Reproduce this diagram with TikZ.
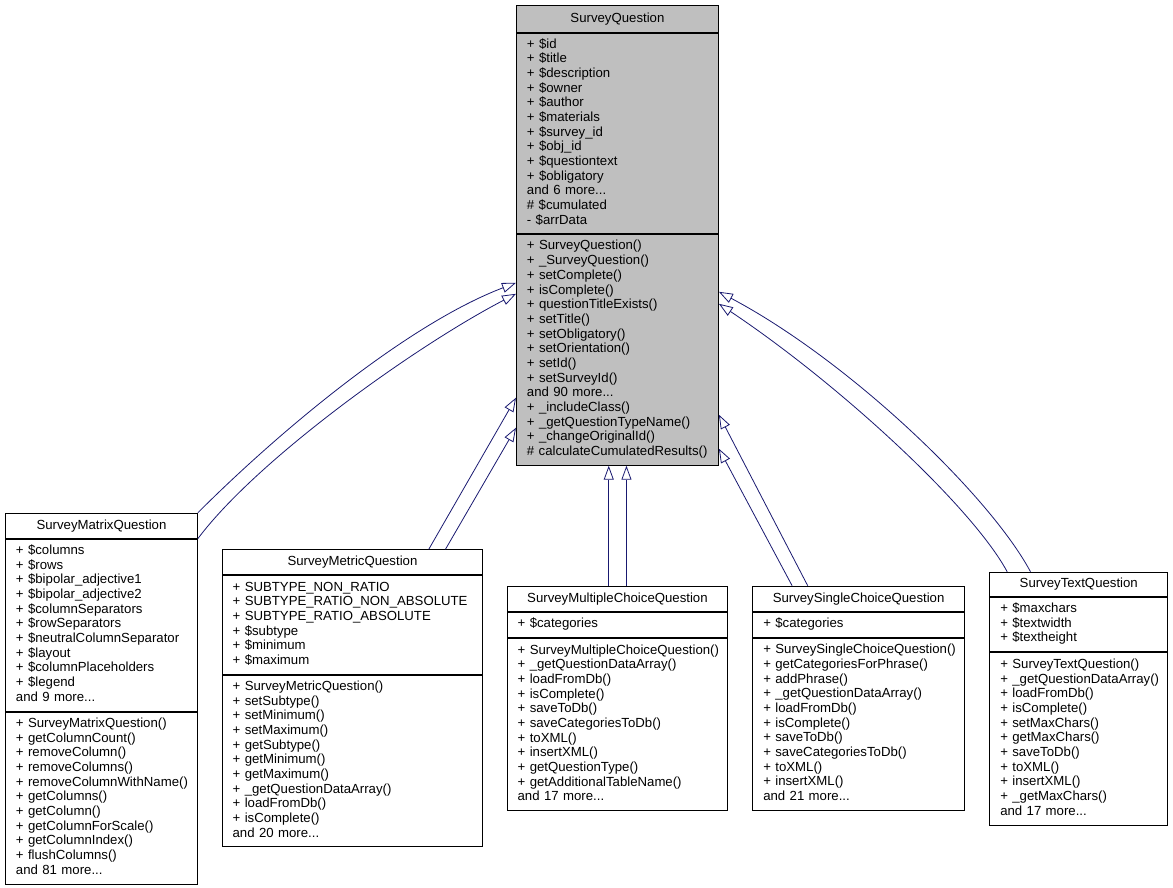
\documentclass[tikz,border=0pt]{standalone}
\usepackage{fontspec}
\setmainfont{Liberation Sans}
\usetikzlibrary{positioning, arrows.meta}
\definecolor{edgeblue}{HTML}{191970}
\definecolor{basegray}{HTML}{BFBFBF}
\newcommand{\members}[1]{\begin{tabular}{@{}l@{}}#1\end{tabular}}

\begin{document}
\begin{tikzpicture}
	[x=1pt, y=-1pt, node distance=0pt,
	 font=\fontsize{13.2}{14.67}\selectfont,
	 box/.style={draw=black, line width=0.9pt, inner xsep=10.5pt, inner ysep=1pt, text width=#1},
	 head/.style={box=#1, align=center, anchor=north west, minimum height=25pt},
	 part/.style={box=#1, align=left},
	 inherit/.style={draw=edgeblue, line width=0.8pt, -{Triangle[open, length=14pt, width=10pt]}}]
   \useasboundingbox (0,0) rectangle (1173,888);

   % base class
   \node[head=181pt, fill=basegray, minimum height=27pt] (sq_t) at (516,5) {SurveyQuestion};
   \node[part=181pt, fill=basegray, minimum height=200pt] (sq_a) [below=of sq_t]
     {\members{+ \$id\\ + \$title\\ + \$description\\ + \$owner\\ + \$author\\ + \$materials\\
      + \$survey\_id\\ + \$obj\_id\\ + \$questiontext\\ + \$obligatory\\ and 6 more...\\
      \# \$cumulated\\ - \$arrData}};
   \node[part=181pt, fill=basegray, minimum height=231pt] (sq_m) [below=of sq_a]
     {\members{+ SurveyQuestion()\\ + \_SurveyQuestion()\\ + setComplete()\\ + isComplete()\\
      + questionTitleExists()\\ + setTitle()\\ + setObligatory()\\ + setOrientation()\\
      + setId()\\ + setSurveyId()\\ and 90 more...\\ + \_includeClass()\\
      + \_getQuestionTypeName()\\ + \_changeOriginalId()\\ \# calculateCumulatedResults()}};

   % derived classes
   \node[head=171pt] (smq_t) at (5,512.7) {SurveyMatrixQuestion};
   \node[part=171pt, minimum height=172pt] (smq_a) [below=of smq_t]
     {\members{+ \$columns\\ + \$rows\\ + \$bipolar\_adjective1\\ + \$bipolar\_adjective2\\
      + \$columnSeparators\\ + \$rowSeparators\\ + \$neutralColumnSeparator\\ + \$layout\\
      + \$columnPlaceholders\\ + \$legend\\ and 9 more...}};
   \node[part=171pt, minimum height=172pt] (smq_m) [below=of smq_a]
     {\members{+ SurveyMatrixQuestion()\\ + getColumnCount()\\ + removeColumn()\\ + removeColumns()\\
      + removeColumnWithName()\\ + getColumns()\\ + getColumn()\\ + getColumnForScale()\\
      + getColumnIndex()\\ + flushColumns()\\ and 81 more...}};

   \node[head=239.6pt] (mtq_t) at (221.7,549.3) {SurveyMetricQuestion};
   \node[part=239.6pt, minimum height=98.6pt] (mtq_a) [below=of mtq_t]
     {\members{+ SUBTYPE\_NON\_RATIO\\ + SUBTYPE\_RATIO\_NON\_ABSOLUTE\\ + SUBTYPE\_RATIO\_ABSOLUTE\\
      + \$subtype\\ + \$minimum\\ + \$maximum}};
   \node[part=239.6pt, minimum height=171.7pt] (mtq_m) [below=of mtq_a]
     {\members{+ SurveyMetricQuestion()\\ + setSubtype()\\ + setMinimum()\\ + setMaximum()\\
      + getSubtype()\\ + getMinimum()\\ + getMaximum()\\ + \_getQuestionDataArray()\\
      + loadFromDb()\\ + isComplete()\\ and 20 more...}};

   \node[head=199.6pt] (mcq_t) at (506.7,586) {SurveyMultipleChoiceQuestion};
   \node[part=199.6pt, minimum height=25.3pt] (mcq_a) [below=of mcq_t] {\members{+ \$categories}};
   \node[part=199.6pt, minimum height=172pt] (mcq_m) [below=of mcq_a]
     {\members{+ SurveyMultipleChoiceQuestion()\\ + \_getQuestionDataArray()\\ + loadFromDb()\\
      + isComplete()\\ + saveToDb()\\ + saveCategoriesToDb()\\ + toXML()\\ + insertXML()\\
      + getQuestionType()\\ + getAdditionalTableName()\\ and 17 more...}};

   \node[head=190.7pt] (scq_t) at (752.3,585.7) {SurveySingleChoiceQuestion};
   \node[part=190.7pt, minimum height=25.3pt] (scq_a) [below=of scq_t] {\members{+ \$categories}};
   \node[part=190.7pt, minimum height=172pt] (scq_m) [below=of scq_a]
     {\members{+ SurveySingleChoiceQuestion()\\ + getCategoriesForPhrase()\\ + addPhrase()\\
      + \_getQuestionDataArray()\\ + loadFromDb()\\ + isComplete()\\ + saveToDb()\\
      + saveCategoriesToDb()\\ + toXML()\\ + insertXML()\\ and 21 more...}};

   \node[head=157pt, minimum height=24.3pt] (stq_t) at (989.3,571.7) {SurveyTextQuestion};
   \node[part=157pt, minimum height=54pt] (stq_a) [below=of stq_t]
     {\members{+ \$maxchars\\ + \$textwidth\\ + \$textheight}};
   \node[part=157pt, minimum height=173.3pt] (stq_m) [below=of stq_a]
     {\members{+ SurveyTextQuestion()\\ + \_getQuestionDataArray()\\ + loadFromDb()\\ + isComplete()\\
      + setMaxChars()\\ + getMaxChars()\\ + saveToDb()\\ + toXML()\\ + insertXML()\\
      + \_getMaxChars()\\ and 17 more...}};

   % generalisations
   \draw[inherit] (smq_t.north east) .. controls +(80,-80) and +(-110,42) .. ([yshift=-49pt]sq_m.north west);
   \draw[inherit] (smq_t.south east) .. controls +(60,-80) and +(-100,52) .. ([yshift=-60pt]sq_m.north west);
   \draw[inherit] ([xshift=76.3pt]mtq_t.north) -- ([yshift=68pt]sq_m.south west);
   \draw[inherit] ([xshift=93pt]mtq_t.north) -- ([yshift=38pt]sq_m.south west);
   \draw[inherit] ([xshift=-8.7pt]mcq_t.north) -- ([xshift=-8.7pt]sq_m.south);
   \draw[inherit] ([xshift=9pt]mcq_t.north) -- ([xshift=9pt]sq_m.south);
   \draw[inherit] ([xshift=-66.5pt]scq_t.north) -- ([yshift=17pt]sq_m.south east);
   \draw[inherit] ([xshift=-50.9pt]scq_t.north) -- ([yshift=51pt]sq_m.south east);
   \draw[inherit] ([xshift=-48.3pt]stq_t.north) .. controls +(-40,-75) and +(132,70) .. ([yshift=-58pt]sq_m.north east);
   \draw[inherit] ([xshift=-71.6pt]stq_t.north) .. controls +(-35,-65) and +(120,80) .. ([yshift=-70pt]sq_m.north east);
\end{tikzpicture}
\end{document}
